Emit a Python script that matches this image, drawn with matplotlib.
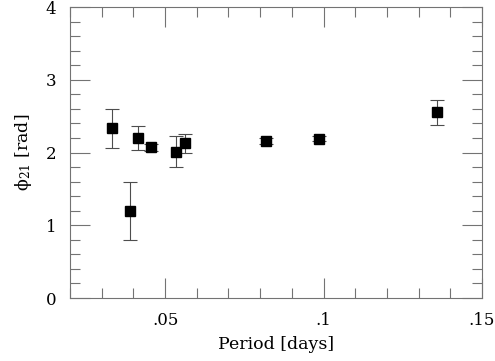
import matplotlib
matplotlib.use('Agg')
import matplotlib.pyplot as plt
from matplotlib.ticker import FixedLocator, MultipleLocator

# Data
period = [0.0332, 0.0388, 0.0415, 0.0456, 0.0536, 0.0564, 0.0820, 0.0986, 0.1358]
phi21 = [2.33, 1.20, 2.20, 2.07, 2.01, 2.13, 2.16, 2.19, 2.55]
phi21_err = [0.27, 0.40, 0.17, 0.05, 0.21, 0.13, 0.04, 0.03, 0.17]

xticks = [0.05, 0.10, 0.15]
xticklabels = ['.05', '.1', '.15']
yticks = [0, 1, 2, 3, 4]

plt.rcParams['font.family'] = ['DejaVu Serif']
plt.rcParams['mathtext.fontset'] = 'dejavuserif'

fig = plt.figure(figsize=(4.95, 3.61), dpi=100)
ax = fig.add_axes([0.1414, 0.1745, 0.8323, 0.8061])

ax.errorbar(period, phi21, yerr=phi21_err, fmt='s', color='black',
            markersize=6.8, ecolor='0.3', elinewidth=0.8, capsize=4.7,
            capthick=0.8)

ax.set_xlim(0.02, 0.15)
ax.set_ylim(0, 4)
ax.xaxis.set_major_locator(FixedLocator(xticks))
ax.set_xticklabels(xticklabels)
ax.xaxis.set_minor_locator(MultipleLocator(0.01))
ax.yaxis.set_major_locator(FixedLocator(yticks))
ax.yaxis.set_minor_locator(MultipleLocator(0.2))

ax.tick_params(which='both', direction='in', top=True, right=True,
               color='0.45', width=0.8, labelsize=12)
ax.tick_params(which='major', length=14.5, pad=10)
ax.tick_params(which='minor', length=7.5)
for s in ax.spines.values():
    s.set_color('0.45')
    s.set_linewidth(0.8)

ax.set_xlabel('Period [days]', fontsize=12.5, labelpad=5)
ax.set_ylabel('\u03d5$_{21}$ [rad]', fontsize=12.5, labelpad=8)

fig.savefig('out.png', dpi=100)
